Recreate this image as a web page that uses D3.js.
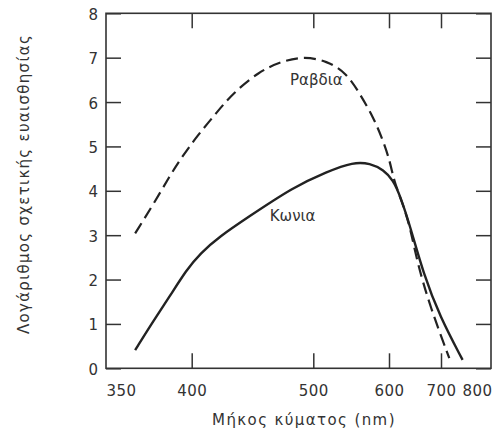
<!DOCTYPE html>
<html>
<head>
<meta charset="utf-8">
<script src="https://cdn.jsdelivr.net/npm/d3@7"></script>
<style>
  body { margin: 0; background: #fff; }
  text { font-family: "DejaVu Sans", sans-serif; fill: #333; }
</style>
</head>
<body>
<div id="chart"></div>
<script>
// wavelength (nm) and log relative sensitivity
const rodWl   = [367, 378, 387, 393, 404, 421, 434, 455, 473, 492, 518, 544, 561, 579, 592, 602, 610, 625, 641, 654, 679, 723];
const rodLog  = [3.04, 3.72, 4.32, 4.69, 5.22, 5.78, 6.20, 6.68, 6.91, 7.03, 6.93, 6.65, 6.20, 5.67, 5.14, 4.66, 4.20, 3.76, 3.17, 2.40, 1.39, 0.23];
const coneWl  = [367, 378, 387, 397, 407, 423, 445, 484, 518, 553, 575, 593, 608, 622, 641, 666, 698, 760];
const coneLog = [0.41, 1.09, 1.61, 2.22, 2.59, 2.97, 3.38, 4.09, 4.43, 4.65, 4.62, 4.47, 4.24, 3.87, 3.19, 2.14, 1.16, 0.19];

const xTickLabels = [350, 400, 500, 600, 700, 800];
const xTickMarks = [400, 500, 600, 700];
const yTicks = [0, 1, 2, 3, 4, 5, 6, 7, 8];

const W = 496, H = 446;
const pLeft = 106, pRight = 491, pTop = 13.3, pBottom = 368.3;

const svg = d3.select("#chart").append("svg")
    .attr("width", W).attr("height", H);

// the wavelength axis is not linear (spectral, ~1/λ), so use a piecewise scale
const x = d3.scaleLinear()
    .domain([350, 400, 500, 600, 700, 800, 840])
    .range([pLeft, 191.7, 313.3, 389, 441, 477, pRight]);
const y = d3.scaleLinear().domain([0, 8]).range([pBottom, pTop]);

const rods = rodWl.map((w, i) => [w, rodLog[i]]);
const cones = coneWl.map((w, i) => [w, coneLog[i]]);

const line = d3.line()
    .x(d => x(d[0]))
    .y(d => y(d[1]))
    .curve(d3.curveBasis);

// axes, ticks pointing inward
svg.append("g")
    .attr("transform", `translate(${pLeft},0)`)
    .call(d3.axisLeft(y).tickValues(yTicks).tickSize(-15).tickPadding(8))
    .call(g => g.select(".domain").remove())
    .call(g => g.selectAll("text").style("font-size", "15px").attr("dy", "0.4em"));

svg.append("g")
    .attr("transform", `translate(${pRight},0)`)
    .call(d3.axisRight(y).tickValues(yTicks).tickSize(-15).tickFormat(""))
    .call(g => g.select(".domain").remove());

svg.append("g")
    .attr("transform", `translate(0,${pTop})`)
    .call(d3.axisTop(x).tickValues(xTickMarks).tickSize(-15).tickFormat(""))
    .call(g => g.select(".domain").remove());

svg.append("g")
    .attr("transform", `translate(0,${pBottom})`)
    .call(d3.axisBottom(x).tickValues(xTickLabels).tickSize(-15).tickPadding(17))
    .call(g => g.select(".domain").remove())
    .call(g => g.selectAll(".tick line").filter(d => !xTickMarks.includes(d)).remove())
    .call(g => g.selectAll("text").style("font-size", "15px").style("letter-spacing", "0.5px"))
    .call(g => g.selectAll(".tick text").filter(d => d === 350).attr("text-anchor", "start"));

svg.selectAll(".tick line").attr("stroke", "#333").attr("stroke-width", 1.5);

svg.append("rect")
    .attr("x", pLeft).attr("y", pTop)
    .attr("width", pRight - pLeft).attr("height", pBottom - pTop)
    .attr("fill", "none").attr("stroke", "#333").attr("stroke-width", 1.6);

// curves
svg.append("path")
    .datum(rods)
    .attr("d", line)
    .attr("fill", "none")
    .attr("stroke", "#222")
    .attr("stroke-width", 2.2)
    .attr("stroke-dasharray", "12,6");

svg.append("path")
    .datum(cones)
    .attr("d", line)
    .attr("fill", "none")
    .attr("stroke", "#222")
    .attr("stroke-width", 2.4);

svg.append("text")
    .attr("x", x(504)).attr("y", y(6.5))
    .attr("dy", "0.35em")
    .attr("text-anchor", "middle")
    .style("font-size", "15px")
    .text("Ραβδια");

svg.append("text")
    .attr("x", x(483)).attr("y", y(3.43))
    .attr("dy", "0.35em")
    .attr("text-anchor", "middle")
    .style("font-size", "15px")
    .text("Κωνια");

// axis titles
svg.append("text")
    .attr("x", 304).attr("y", 425)
    .attr("text-anchor", "middle")
    .style("font-size", "15px")
    .style("letter-spacing", "1.4px")
    .text("Μήκος κύματος (nm)");

svg.append("text")
    .attr("transform", "translate(29,184) rotate(-90)")
    .attr("text-anchor", "middle")
    .style("font-size", "15px")
    .style("letter-spacing", "1.3px")
    .text("Λογάριθμος σχετικής ευαισθησίας");
</script>
</body>
</html>
